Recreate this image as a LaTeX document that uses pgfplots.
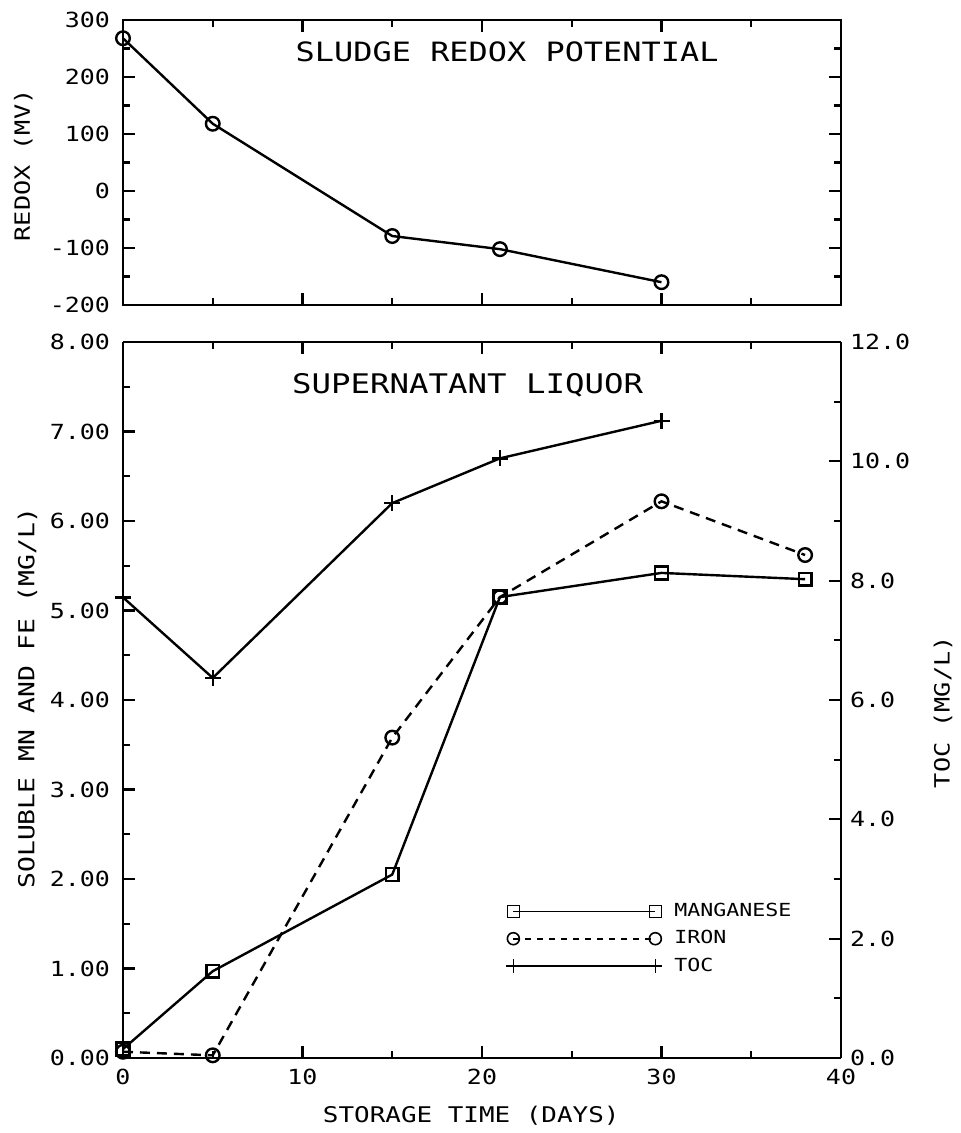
\documentclass[border=0pt]{standalone}
\usepackage{fontspec}
\setmainfont{DejaVu Sans Mono}[FakeStretch=1.2]
\usepackage{pgfplots}
\pgfplotsset{compat=1.18}
\begin{document}
\begin{tikzpicture}
\path[use as bounding box] (0pt,0pt) rectangle (480.5pt,-566.5pt);
\pgfplotsset{
  every axis/.append style={
    scale only axis, clip=false,
    axis line style={line width=1.4pt},
    every tick/.style={black, line width=1.1pt},
    major tick length=6pt, minor tick length=3.5pt,
    tick label style={font=\fontsize{10.4}{12}\selectfont},
    xticklabel style={yshift=-2pt},
    yticklabel style={xshift=-3pt},
  },
}
% ---------------- top panel ----------------
\begin{axis}[
  at={(61.5pt,-152.5pt)}, anchor=south west,
  width=359pt, height=142.5pt,
  xmin=0, xmax=40, ymin=-200, ymax=300,
  xtick={0,10,20,30,40}, minor xtick={5,15,25,35}, xticklabels={},
  ytick={-200,-100,0,100,200,300},
  yticklabels={-200,-100,0,100,200,300},
  minor ytick={-150,-50,50,150,250},
  ylabel={REDOX (MV)},
  ylabel style={at={(rel axis cs:-0.139,0.49)}, anchor=center, font=\fontsize{10.5}{12}\selectfont},
]
\addplot[black, line width=1.2pt, mark=o, mark size=3.4pt] coordinates {
 (0,268) (5,118) (15,-79) (21,-102) (30,-160)};
\node[font=\fontsize{13.3}{15}\selectfont] at (axis cs:21.4,244) {SLUDGE REDOX POTENTIAL};
\end{axis}
% ---------------- bottom panel, left axis ----------------
\begin{axis}[
  at={(61.5pt,-529pt)}, anchor=south west,
  width=359pt, height=358pt,
  xmin=0, xmax=40, ymin=0, ymax=8,
  axis y line*=left, axis x line*=box,
  xtick={0,10,20,30,40}, minor xtick={5,15,25,35},
  xticklabels={0,10,20,30,40},
  ytick={0,1,2,3,4,5,6,7,8},
  yticklabels={0.00,1.00,2.00,3.00,4.00,5.00,6.00,7.00,8.00},
  minor ytick={0.5,1.5,2.5,3.5,4.5,5.5,6.5,7.5},
  xlabel={STORAGE TIME (DAYS)},
  xlabel style={at={(rel axis cs:0.485,-0.08)}, anchor=center, font=\fontsize{10.8}{13}\selectfont},
  ylabel={SOLUBLE MN AND FE (MG/L)},
  ylabel style={at={(rel axis cs:-0.133,0.503)}, anchor=center, font=\fontsize{11}{13}\selectfont},
]
\addplot[black, line width=1.2pt, mark=square, mark size=3.2pt] coordinates {
 (0,0.10) (5,0.97) (15,2.05) (21,5.15) (30,5.42) (38,5.35)};
\addplot[black, line width=1.2pt, dash pattern=on 5pt off 3.5pt, mark=o, mark size=3.4pt, mark options={solid}] coordinates {
 (0,0.07) (5,0.03) (15,3.58) (21,5.15) (30,6.22) (38,5.62)};
\node[font=\fontsize{13.5}{15}\selectfont] at (axis cs:19.2,7.52) {SUPERNATANT LIQUOR};
\end{axis}
% ---------------- bottom panel, right axis ----------------
\begin{axis}[
  at={(61.5pt,-529pt)}, anchor=south west,
  width=359pt, height=358pt,
  xmin=0, xmax=40, ymin=0, ymax=12,
  axis y line*=right, axis x line=none,
  ytick={0,2,4,6,8,10,12},
  yticklabels={0.0,2.0,4.0,6.0,8.0,10.0,12.0},
  minor ytick={1,3,5,7,9,11},
  yticklabel style={anchor=west, xshift=4pt},
  ylabel={TOC (MG/L)},
  ylabel style={at={(rel axis cs:1.142,0.483)}, anchor=center, rotate=0, font=\fontsize{10.5}{12}\selectfont},
  legend style={draw=none, fill=none, at={(rel axis cs:0.525,0.228)}, anchor=north west,
    font=\fontsize{9}{10}\selectfont, row sep=1.5pt, cells={anchor=west},
    /tikz/every odd column/.append style={column sep=4pt}},
  legend image code/.code={\draw[mark repeat=1] plot coordinates {(0pt,0pt) (71pt,0pt)};},
]
\addlegendimage{black, line width=0.8pt, mark=square, mark size=3pt}
\addlegendentry{MANGANESE}
\addlegendimage{black, line width=0.8pt, dash pattern=on 3pt off 3pt, mark=o, mark size=3pt, mark options={solid}}
\addlegendentry{IRON}
\addplot[black, line width=1.2pt, mark=+, mark size=4pt, forget plot] coordinates {
 (0,7.72) (5,6.37) (15,9.30) (21,10.05) (30,10.68)};
\addlegendimage{black, line width=0.8pt, mark=+, mark size=3.5pt}
\addlegendentry{TOC}
\end{axis}
\end{tikzpicture}
\end{document}
